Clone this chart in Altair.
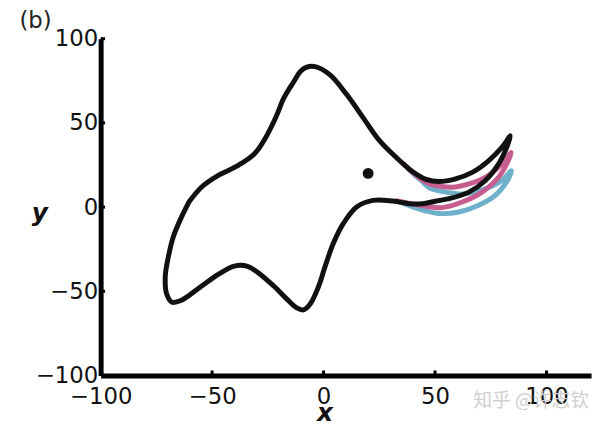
import altair as alt
import pandas as pd

# Black elephant outline, in drawing order
body_x = [-60.4, -63.7, -67.4, -69.6, -71.0, -70.4, -68.0, -64.0, -54.8, -47.4,
          -40.0, -34.1, -28.2, -22.2, -16.3, -12.0, -9.0, -6.0, -2.2, 0.7,
          4.4, 8.9, 14.8, 22.2, 31.1, 38.5, 44.5, 50.0, 56.3, 65.2,
          72.6, 78.5, 82.6, 83.8, 80.0, 74.0, 66.7, 59.2, 51.8, 46.0,
          40.0, 32.6, 25.2, 17.8, 10.4, 2.9, -3.7, -7.8, -10.4, -13.3,
          -17.8, -21.5, -26.0, -31.1, -38.5, -47.4, -54.8, -60.4]
body_y = [3.0, -5.8, -17.6, -29.4, -41.1, -51.5, -56.5, -55.5, -47.0, -40.1,
          -35.0, -35.2, -40.1, -47.0, -54.8, -59.8, -61.0, -57.5, -47.0, -35.2,
          -21.5, -9.7, 0.1, 4.0, 3.6, 2.0, 2.0, 3.5, 5.0, 8.9,
          15.8, 25.6, 37.0, 42.3, 35.4, 27.5, 20.6, 16.8, 15.2, 16.5,
          21.0, 29.5, 39.3, 53.0, 66.8, 78.5, 83.4, 83.0, 80.5, 74.6,
          64.8, 53.0, 41.2, 31.5, 24.6, 18.7, 11.8, 3.0]

# Pink trunk position
pink_x = [36.0, 41.0, 46.0, 50.4, 57.8, 65.2, 72.6, 80.0, 84.2, 83.0,
          78.5, 71.1, 62.2, 53.3, 45.9, 38.5, 33.0]
pink_y = [25.5, 19.5, 14.8, 12.8, 11.8, 13.8, 17.7, 25.6, 32.4, 28.0,
          17.7, 8.9, 3.0, -0.3, 0.5, 2.2, 3.6]

# Blue trunk position
blue_x = [38.0, 44.0, 47.4, 54.8, 63.7, 72.6, 80.0, 84.2, 83.2, 77.0,
          69.6, 60.7, 51.8, 45.9, 40.0, 33.0]
blue_y = [22.5, 15.5, 11.5, 8.9, 7.9, 10.9, 15.8, 21.6, 17.5, 6.9,
          1.1, -2.9, -3.8, -2.3, 0.1, 3.6]

# Eye
eye_x = [20.0]
eye_y = [20.0]

# Axis ticks
x_ticks = [-100, -50, 0, 50, 100]
y_ticks = [-100, -50, 0, 50, 100]

FONT = "DejaVu Sans"

def curve(xs, ys):
    return pd.DataFrame({"x": xs, "y": ys, "i": list(range(len(xs)))})

xscale = alt.Scale(domain=[-100, 120], nice=False, zero=False)
yscale = alt.Scale(domain=[-100, 100], nice=False, zero=False)

def line_layer(df, color):
    return alt.Chart(df).mark_line(
        color=color, strokeWidth=5, interpolate="catmull-rom",
        strokeCap="round", strokeJoin="round"
    ).encode(
        x=alt.X("x:Q", scale=xscale, title="x"),
        y=alt.Y("y:Q", scale=yscale, title="y"),
        order=alt.Order("i:Q"),
    )

blue = line_layer(curve(blue_x, blue_y), "#6eb0c9")
pink = line_layer(curve(pink_x, pink_y), "#c75d8f")

black = alt.Chart(curve(body_x, body_y)).mark_line(
    color="#111111", strokeWidth=5, interpolate="catmull-rom",
    strokeCap="round", strokeJoin="round"
).encode(
    x=alt.X("x:Q", scale=xscale, title="x",
            axis=alt.Axis(values=x_ticks)),
    y=alt.Y("y:Q", scale=yscale, title="y",
            axis=alt.Axis(values=y_ticks)),
    order=alt.Order("i:Q"),
)

eye = alt.Chart(pd.DataFrame({"x": eye_x, "y": eye_y})).mark_circle(
    color="#111111", size=120, opacity=1
).encode(x=alt.X("x:Q", title="x"), y=alt.Y("y:Q", title="y"))

xt = pd.DataFrame({"x": x_ticks[1:], "y": [-100] * 4, "y2": [-97] * 4})
xtick_layer = alt.Chart(xt).mark_rule(color="black", strokeWidth=3).encode(
    x=alt.X("x:Q", title="x"), y=alt.Y("y:Q", title="y"), y2="y2:Q")

yt = pd.DataFrame({"y": y_ticks[1:], "x": [-100] * 4, "x2": [-98.0] * 4})
ytick_layer = alt.Chart(yt).mark_rule(color="black", strokeWidth=3).encode(
    y=alt.Y("y:Q", title="y"), x=alt.X("x:Q", title="x"), x2="x2:Q")

panel = alt.Chart(pd.DataFrame({"t": ["(b)"]})).mark_text(
    font=FONT, fontSize=23, color="#222222", align="left", baseline="middle"
).encode(x=alt.value(-82), y=alt.value(-18), text="t:N")

mark_txt = alt.Chart(pd.DataFrame({"t": ["知乎 @许志钦"]})).mark_text(
    font="Noto Sans CJK SC", fontSize=19, color="#cfcfcf", align="left",
    baseline="middle"
).encode(x=alt.value(376), y=alt.value(366), text="t:N")

chart = alt.layer(
    blue, pink, black, eye, xtick_layer, ytick_layer, panel, mark_txt
).properties(
    width=495, height=340,
    autosize=alt.AutoSizeParams(type="none"),
    padding={"left": 93.5, "top": 29, "right": 6, "bottom": 51},
    background="white",
).configure_view(
    stroke=None
).configure_axis(
    grid=False, ticks=False, tickSize=0,
    domainColor="black", domainWidth=5,
    labelFont=FONT, labelFontSize=23, labelColor="#111111",
    labelFlush=False, labelOverlap=False,
    titleFont=FONT, titleFontSize=25, titleFontWeight="bold",
    titleFontStyle="italic", titleColor="#111111",
).configure_axisX(
    labelPadding=10, titleX=226, titleY=45, titleBaseline="alphabetic",
    titleAlign="center",
).configure_axisY(
    labelPadding=3, titleAngle=0, titleX=-62, titleY=176,
    titleBaseline="middle", titleAlign="center",
)

chart.save("out.html", embed_options={"renderer": "svg", "actions": False})
